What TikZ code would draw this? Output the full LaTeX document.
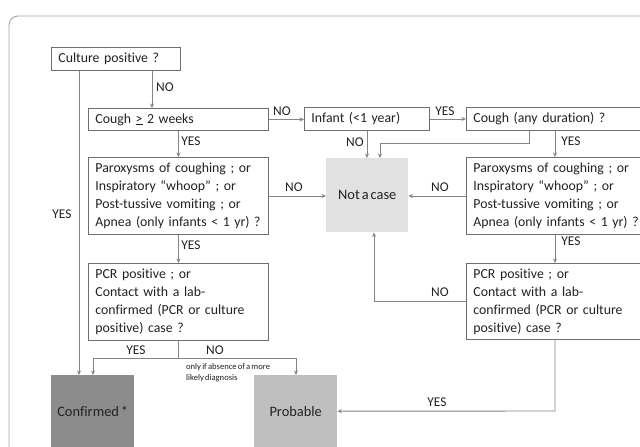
\documentclass[tikz,border=0pt]{standalone}
\usepackage{fontspec}
\setmainfont{Carlito}[Ligatures=NoCommon, WordSpace=0.6]
\usetikzlibrary{arrows.meta}
\definecolor{bord}{HTML}{6E6E6E}
\definecolor{conncol}{HTML}{858585}
\definecolor{framecol}{HTML}{A6A6A6}
\definecolor{txt}{HTML}{222222}
\definecolor{darkfill}{HTML}{8C8C8C}
\definecolor{midfill}{HTML}{BFBFBF}
\definecolor{lightfill}{HTML}{E1E1E1}
\begin{document}
\begin{tikzpicture}[x=1pt,y=-1pt,
  box/.style={draw=bord, line width=0.9pt, fill=white, anchor=north west, align=left,
    inner xsep=7pt, inner ysep=0pt, text=txt, font=\fontsize{13.8}{18}\selectfont},
  endbox/.style={draw=none, anchor=north west, inner sep=0pt, text=txt,
    font=\fontsize{14.4}{18}\selectfont},
  conn/.style={draw=conncol, line width=0.9pt, -{Stealth[length=4.5pt,width=4pt]}},
  plain/.style={draw=conncol, line width=0.9pt},
  lab/.style={inner sep=0pt, text=txt, font=\fontsize{13.4}{15}\selectfont}]
\clip (0,0) rectangle (640,447);
\fill[white] (0,0) rectangle (640,447);
% outer frame
\draw[framecol, line width=0.9pt, rounded corners=9pt] (9,470) -- (9,16) -- (670,16);

% boxes
\node[box, text width=115pt, minimum height=23pt] (cult) at (51,47) {Culture positive ?};
\node[box, text width=166pt, minimum height=22pt] (cough) at (88,108) {Cough \underline{>} 2 weeks};
\node[box, text width=111pt, minimum height=23pt] (inf) at (304,107) {Infant (<1 year)};
\node[box, text width=186pt, minimum height=23pt] (anyc) at (466,107) {Cough (any duration) ?};
\node[box, text width=166pt, minimum height=77pt] (lpar) at (88,157)
  {Paroxysms of coughing ; or\\Inspiratory “whoop” ; or\\Post-tussive vomiting ; or\\Apnea (only infants < 1 yr) ?};
\node[box, text width=186pt, minimum height=77pt] (rpar) at (466,157)
  {Paroxysms of coughing ; or\\Inspiratory “whoop” ; or\\Post-tussive vomiting ; or\\Apnea (only infants < 1 yr) ?};
\node[box, text width=166pt, minimum height=77pt] (lpcr) at (88,263)
  {PCR positive ; or\\Contact with a lab-\\confirmed (PCR or culture\\positive) case ?};
\node[box, text width=186pt, minimum height=76pt] (rpcr) at (466,263)
  {PCR positive ; or\\Contact with a lab-\\confirmed (PCR or culture\\positive) case ?};
\node[endbox, fill=lightfill, minimum width=82pt, minimum height=74pt] (notc) at (326,158) {Not a case};
\node[endbox, fill=darkfill, minimum width=83pt, minimum height=72pt] (conf) at (51,375) {Confirmed *};
\node[endbox, fill=midfill, minimum width=83pt, minimum height=72pt] (prob) at (254,375) {Probable};

% helper coordinates
\coordinate (xA) at (79,0);
\coordinate (xB) at (152,0);
\coordinate (xC) at (529,143);
\coordinate (xD) at (380,0);
\coordinate (xE) at (555,0);
\coordinate (xF) at (374,0);
\coordinate (yG) at (0,411);
\coordinate (split) at (0,358);
\coordinate (xH) at (93,0);
\coordinate (xI) at (296,0);

% connectors
\draw[conn] (cult.south -| xA) -- (conf.north -| xA);
\draw[conn] (cult.south -| xB) -- (cough.north -| xB);
\draw[conn] (cough.east) -- (inf.west |- cough.east);
\draw[conn] (inf.east) -- (anyc.west |- inf.east);
\draw[conn] (inf.south) -- (notc.north -| inf.south);
\draw[conn] (anyc.south -| xC) -- (xC) -- (xC -| xD) -- (notc.north -| xD);
\draw[conn] (cough.south) -- (lpar.north);
\draw[conn] (anyc.south -| xE) -- (rpar.north -| xE);
\draw[conn] (lpar.east) -- (notc.west |- lpar.east);
\draw[conn] (rpar.west) -- (notc.east |- rpar.west);
\draw[conn] (lpar.south) -- (lpcr.north);
\draw[conn] (rpar.south -| xE) -- (rpcr.north -| xE);
\draw[conn] (rpcr.west) -- (rpcr.west -| xF) -- (notc.south -| xF);
\draw[conn] (rpcr.south -| xE) -- (xE |- yG) -- (prob.east);
\draw[plain] (lpcr.south) -- (lpcr.south |- split);
\draw[conn] (split -| xH) -- (split -| xI) -- (prob.north -| xI);
\draw[conn] (split -| xH) -- (conf.north -| xH);

% labels
\node[lab] (l1) at (165,87) {NO};
\node[lab] (l2) at (282,111) {NO};
\node[lab] (l3) at (445,111) {YES};
\node[lab] (l4) at (355,142) {NO};
\node[lab] (l5) at (191,141) {YES};
\node[lab] (l6) at (571,141) {YES};
\node[lab] (l7) at (62,214) {YES};
\node[lab] (l8) at (294,187) {NO};
\node[lab] (l9) at (440,187) {NO};
\node[lab] (l10) at (191,245) {YES};
\node[lab] (l11) at (571,241) {YES};
\node[lab] (l12) at (440,292) {NO};
\node[lab] (l13) at (437,402) {YES};
\node[lab] (l14) at (136,350) {YES};
\node[lab] (l15) at (215,350) {NO};
\node[anchor=west, align=left, inner sep=0pt, text=txt, font=\fontsize{8.6}{11}\selectfont] (note) at (186,373)
  {only if absence of a more\\likely diagnosis};
\end{tikzpicture}
\end{document}
